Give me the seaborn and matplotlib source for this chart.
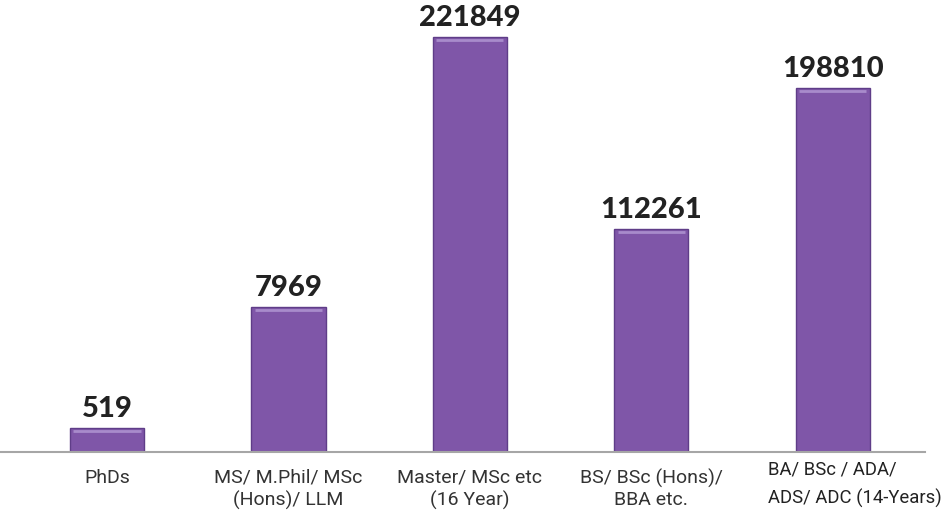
import matplotlib
matplotlib.use("Agg")
import matplotlib.pyplot as plt
import seaborn as sns
import pandas as pd

# categorias e valores
categories = ["PhDs", "MS/ M.Phil/ MSc\n(Hons)/ LLM", "Master/ MSc etc\n(16 Year)",
              "BS/ BSc (Hons)/\nBBA etc.", "BA/ BSc / ADA/\nADS/ ADC (14-Years)"]
counts = [519, 7969, 221849, 112261, 198810]
# alturas das barras como desenhadas no gráfico original (não proporcionais)
drawn_height = [24, 145, 415, 223, 364]

df = pd.DataFrame({"cat": categories, "count": counts, "h": drawn_height})

sns.set_theme(style="white")
plt.rcParams['font.family'] = ['Roboto', 'DejaVu Sans']

fig = plt.figure(figsize=(9.47, 5.32), dpi=100)
ax = fig.add_axes([0, 80 / 532, 1, 452 / 532])

sns.barplot(data=df, x="cat", y="h", color="#7f56a8", saturation=1, width=0.41,
            edgecolor="#5f3d88", linewidth=1, ax=ax)

# brilho no topo das barras
for p in ax.patches:
    ax.plot([p.get_x() + 0.02, p.get_x() + p.get_width() - 0.02],
            [p.get_height() - 3, p.get_height() - 3], color="#a88bcb", lw=2, solid_capstyle="butt")

for i, row in df.iterrows():
    ax.annotate(f"{row['count']}", (i, row["h"]), xytext=(0, 4), textcoords="offset points",
                ha="center", va="bottom", fontsize=21, fontweight="black",
                color="#222222", family=["Lato", "DejaVu Sans"])

ax.set_xlim(-0.59, 4.63)
ax.set_ylim(0, 452)
ax.set_yticks([])
ax.set_xlabel("")
ax.set_ylabel("")
for s in ["top", "right", "left"]:
    ax.spines[s].set_visible(False)
ax.spines["bottom"].set_color("#a6a6a6")
ax.spines["bottom"].set_linewidth(1.5)
ax.spines["bottom"].set_bounds(-0.59, 4.51)

# rótulos do eixo x (o último com fonte maior e alinhado à esquerda, como no original)
ax.set_xticks(range(len(categories)))
ax.set_xticklabels(categories[:-1] + [""])
ax.tick_params(axis="x", length=0, pad=12, labelsize=14, labelcolor="#333333")
for lab in ax.get_xticklabels():
    lab.set_linespacing(1.25)
ax.text(3.645, -0.018, categories[-1], transform=ax.get_xaxis_transform(),
        ha="left", va="top", multialignment="left", fontsize=13.3,
        color="#222222", linespacing=1.75)

fig.savefig("out.png", dpi=100)
